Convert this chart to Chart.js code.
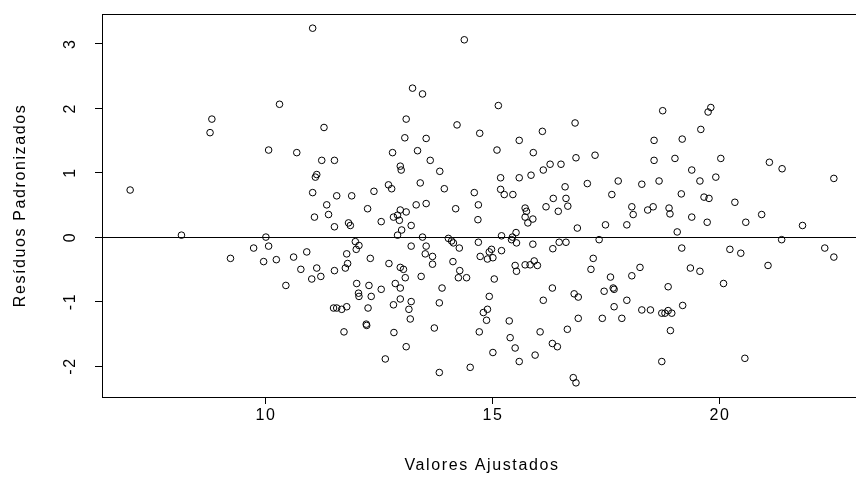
<!DOCTYPE html>
<html><head><meta charset="utf-8">
<script src="https://cdn.jsdelivr.net/npm/chart.js@4/dist/chart.umd.min.js"></script>
<style>
html,body{margin:0;padding:0;background:#fff;overflow:hidden;}
#wrap{width:870px;height:490px;position:relative;}
</style></head><body>
<div id="wrap"><canvas id="c" width="870" height="490"></canvas></div>
<script>
// Fitted values (x) and standardized residuals (y)
const fittedValues = [
 7.01, 8.14, 8.81, 8.77, 9.22, 10.30, 10.06, 10.00, 9.73, 10.06, 9.95, 10.23, 10.44,
 11.03, 14.37, 13.23, 13.45, 13.09, 11.28, 14.21, 14.71, 13.06, 13.53,
 15.12, 18.74, 16.81, 16.09, 15.58, 18.55,
 19.80, 19.74, 19.58, 19.17,
 10.68, 11.23, 11.51, 11.12, 11.09, 11.03, 11.56, 11.89, 11.34, 11.38, 11.07, 11.51, 11.82, 11.86,
 12.24, 12.38, 12.79, 13.34, 13.62, 13.83, 12.96, 12.98, 13.40, 12.70, 12.77, 13.93, 14.59, 14.68,
 13.31, 13.53, 14.18, 14.67, 12.54, 12.81, 12.90, 12.96, 13.09, 12.94, 13.20, 12.99, 12.90, 13.45,
 14.02, 14.09, 14.13, 14.26, 14.68, 11.97, 12.05, 11.99, 11.78, 10.90, 10.61, 12.30, 13.20, 13.53,
 13.51, 13.67, 13.67, 14.12, 11.80, 11.75, 12.71, 12.96, 13.03, 10.77, 11.12, 11.51, 14.27,
 15.09, 15.89, 16.83, 17.25, 18.55, 16.26, 16.50, 16.11, 15.17, 15.58, 15.84, 17.08, 17.76, 18.28,
 18.66, 16.59, 15.17, 15.25, 15.44, 17.62, 16.33, 16.61, 16.65, 16.17, 16.44, 15.71, 15.74, 15.71,
 15.88, 15.77, 18.06, 18.09, 18.41, 18.53, 18.88, 18.90, 17.95, 17.48, 16.86, 15.19, 15.43, 15.51,
 15.41, 15.52, 17.34, 15.88, 16.46, 16.61, 16.32, 15.19, 14.97, 14.92, 14.72, 14.88, 15.00, 17.21,
 15.49, 15.71, 15.82, 15.91, 15.98, 17.16, 18.24, 15.52,
 19.01, 20.02, 21.09, 21.37, 22.51, 19.38, 19.56, 19.91, 19.15, 19.65, 19.76, 20.33, 19.38, 19.72,
 20.57, 20.92, 21.82, 19.06, 21.36, 19.16, 20.22, 20.46, 22.31, 22.51, 19.35, 19.56, 21.06,
 11.01, 11.21, 12.00, 12.27, 12.54, 12.04, 12.05, 12.32, 12.85, 13.07, 12.96, 13.42, 13.88, 14.24,
 14.42, 11.49, 11.56, 11.67, 11.78, 12.25, 12.81, 12.96, 13.20, 13.15, 13.18, 13.82, 12.21, 12.22,
 11.72, 12.82, 13.71, 13.09, 12.63, 13.82, 14.50,
 15.03, 14.92, 14.88, 14.79, 14.86, 14.70, 15.36, 15.38, 15.49, 15.58, 15.00, 15.93, 16.04, 16.11,
 16.31, 16.79, 16.88, 16.88, 16.64, 16.31, 16.42, 16.77, 16.83, 17.59, 18.06, 17.45, 17.65, 17.67,
 17.95, 17.67, 17.41, 17.84, 18.28, 18.47, 18.72, 18.79, 18.86, 18.86, 18.91, 18.72,
 20.08, 18.94, 19.18, 20.55
];
const stdResiduals = [
 0.73, 0.03, 1.83, 1.62, -0.33, 2.06, 1.35, 0.00, -0.17, -0.14, -0.38, -0.35, -0.75,
 3.24, 3.06, 2.31, 2.22, 1.83, 1.70, 1.74, 1.61, 1.54, 1.53,
 2.04, 1.96, 1.77, 1.64, 1.50, 1.50,
 2.01, 1.94, 1.67, 1.52,
 1.31, 1.19, 1.19, 0.97, 0.93, 0.69, 0.64, 0.64, 0.50, 0.35, 0.31, 0.16, 0.22, 0.18,
 0.44, 0.71, 1.31, 1.34, 1.19, 1.02, 1.10, 1.04, 0.84, 0.81, 0.75, 0.75, 0.69, 0.50,
 0.50, 0.52, 0.44, 0.27, 0.24, 0.31, 0.34, 0.42, 0.39, 0.26, 0.18, 0.11, 0.03, 0.00,
 -0.02, -0.06, -0.09, -0.17, -0.08, -0.07, -0.13, -0.19, -0.26, -0.23, -0.31, -0.33, -0.14, -0.14,
 -0.26, -0.30, -0.42, -0.38, -0.41, -0.48, -0.41, -0.47, -0.50, -0.50, -0.48, -0.52, -0.52,
 1.35, 1.31, 1.23, 1.27, 1.19, 1.13, 1.13, 1.04, 0.92, 0.92, 0.96, 0.83, 0.87, 0.82,
 0.87, 0.78, 0.74, 0.66, 0.66, 0.66, 0.60, 0.60, 0.48, 0.47, 0.40, 0.45, 0.40, 0.31,
 0.28, 0.22, 0.47, 0.35, 0.42, 0.47, 0.45, 0.36, 0.19, 0.19, 0.14, 0.02, 0.00, 0.07,
 -0.04, -0.09, -0.04, -0.11, -0.08, -0.08, -0.18, -0.21, -0.19, -0.23, -0.30, -0.34, -0.32, -0.33,
 -0.44, -0.43, -0.43, -0.37, -0.44, -0.50, -0.47, -0.53,
 1.22, 1.22, 1.16, 1.06, 0.91, 1.04, 0.87, 0.93, 0.67, 0.62, 0.60, 0.54, 0.31, 0.23,
 0.23, 0.35, 0.18, 0.08, -0.04, -0.17, -0.19, -0.25, -0.17, -0.31, -0.48, -0.53, -0.44,
 -0.65, -0.61, -0.72, -0.75, -0.81, -0.87, -0.92, -0.92, -0.72, -0.63, -0.79, -0.61, -0.79, -0.63,
 -0.63, -1.10, -1.10, -1.12, -1.08, -1.10, -1.05, -0.96, -1.00, -1.12, -1.27, -1.02, -1.35, -1.37,
 -1.47, -1.48, -1.41, -1.70, -1.89, -2.10, -2.02,
 -0.65, -0.92, -1.12, -1.17, -1.29, -1.47, -1.30, -1.56, -1.72, -1.93, -1.79, -1.83, -1.47, -0.98,
 -0.79, -0.88, -0.93, -1.26, -1.43, -1.65, -1.70, -2.18, -2.26, -0.62, -0.60, -0.84, -0.79, -0.81,
 -0.98, -1.08, -1.26, -1.26, -1.13, -1.13, -1.18, -1.18, -1.14, -0.77, -1.45, -1.93,
 -0.72, -1.18, -1.06, -1.88
];
const xTicks = [10, 15, 20];
const yTicks = [-2, -1, 0, 1, 2, 3];
const xRange = [6.39, 23.13];
const yRange = [-2.48, 3.46];
const xTitle = 'Valores Ajustados';
const yTitle = 'Resíduos Padronizados';

const points = fittedValues.map((x, i) => ({ x: x, y: stdResiduals[i] }));
const FONT = { family: '"Liberation Sans", Arial, sans-serif', size: 16 };

const boxPlugin = {
  id: 'box',
  beforeDraw(chart) {
    chart.ctx.letterSpacing = '1.6px';
  },
  afterDatasetsDraw(chart) {
    const a = chart.chartArea, ctx = chart.ctx;
    ctx.save();
    ctx.strokeStyle = '#000';
    ctx.lineWidth = 1;
    ctx.strokeRect(Math.round(a.left) + 0.5, Math.round(a.top) + 0.5,
      Math.round(a.right - a.left), Math.round(a.bottom - a.top));
    ctx.restore();
  }
};

new Chart(document.getElementById('c'), {
  type: 'scatter',
  data: { datasets: [{
    data: points,
    pointStyle: 'circle',
    pointRadius: 3.3,
    pointHoverRadius: 3.3,
    pointBorderWidth: 1,
    borderColor: '#000',
    backgroundColor: 'rgba(0,0,0,0)'
  }]},
  options: {
    responsive: false,
    animation: false,
    devicePixelRatio: 1,
    layout: { padding: { top: 14, right: 8, left: 0, bottom: 0 } },
    plugins: { legend: { display: false }, tooltip: { enabled: false } },
    scales: {
      x: {
        type: 'linear', min: xRange[0], max: xRange[1],
        afterBuildTicks: s => { s.ticks = xTicks.map(v => ({ value: v })); },
        afterFit: s => { s.height = 93; s.paddingLeft = 0; s.paddingRight = 0; },
        grid: { drawOnChartArea: false, drawTicks: true, tickLength: 7, tickColor: '#000', color: '#000' },
        border: { display: false },
        ticks: { font: FONT, color: '#000', padding: 2, autoSkip: false, maxRotation: 0 },
        title: { display: true, text: xTitle, font: FONT, color: '#000', padding: { top: 0, bottom: 15 } }
      },
      y: {
        type: 'linear', min: yRange[0], max: yRange[1],
        afterBuildTicks: s => { s.ticks = yTicks.map(v => ({ value: v })); },
        afterFit: s => { s.width = 102; s.paddingTop = 0; s.paddingBottom = 0; },
        grid: {
          drawOnChartArea: true, drawTicks: true, tickLength: 7, tickColor: '#000',
          color: c => (c.tick && c.tick.value === 0) ? '#000' : 'rgba(0,0,0,0)'
        },
        border: { display: false },
        ticks: { font: FONT, color: '#000', padding: 17, autoSkip: false, minRotation: 90, maxRotation: 90, crossAlign: 'center' },
        title: { display: true, text: yTitle, font: FONT, color: '#000', padding: { top: 11, bottom: 0 } }
      }
    }
  },
  plugins: [boxPlugin]
});
</script>
</body></html>
